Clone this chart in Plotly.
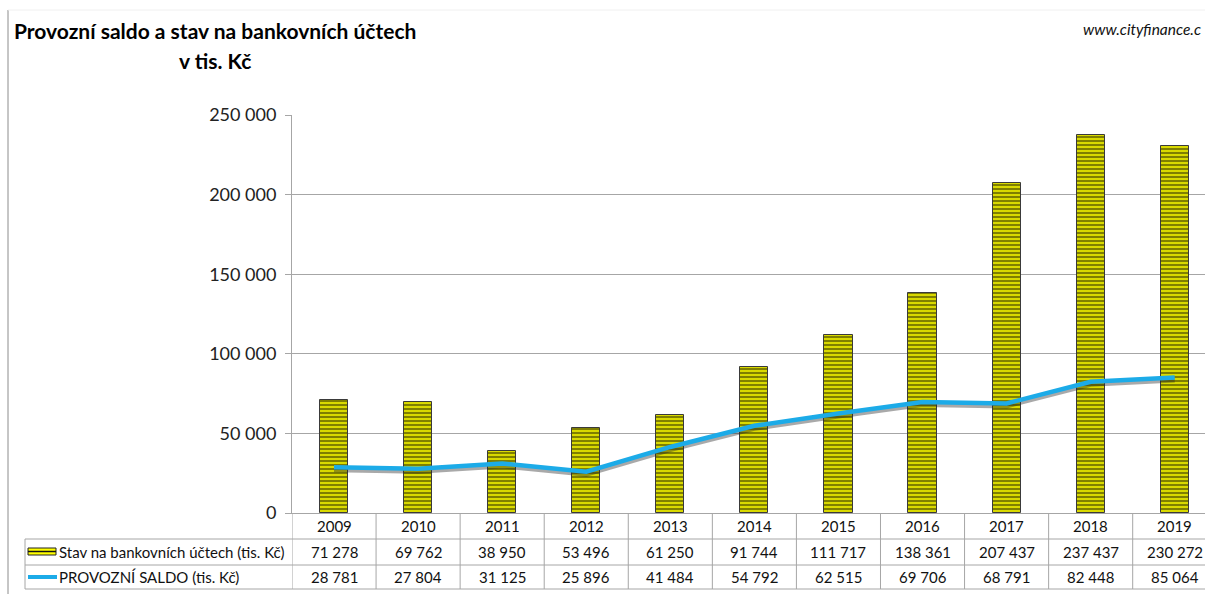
import plotly.graph_objects as go

# Years and the two series (in thousands of CZK)
years = ["2009", "2010", "2011", "2012", "2013", "2014", "2015", "2016", "2017", "2018", "2019"]
bank_balance = [71278, 69762, 38950, 53496, 61250, 91744, 111717, 138361, 207437, 237437, 230272]
operating_balance = [28781, 27804, 31125, 25896, 41484, 54792, 62515, 69706, 68791, 82448, 85064]

bank_label = "Stav na bankovních účtech (tis. Kč)"
saldo_label = "PROVOZNÍ SALDO (tis. Kč)"
y_ticks = [0, 50000, 100000, 150000, 200000, 250000]

FONT = "Lato"
GRID = "#a6a6a6"
W, H = 1205, 594
L, T, B = 292, 115, 81
PLOT_H = H - T - B
PLOT_W = W - L
Y_MAX = 250000
shadow_shift = 3 * Y_MAX / PLOT_H  # about 3 px lower


def py(pixel_y):
    """paper y coordinate for a pixel row of the figure"""
    return (H - B - pixel_y) / PLOT_H


def px(pixel_x):
    """paper x coordinate for a pixel column of the figure"""
    return (pixel_x - L) / PLOT_W


def fmt(v):
    return f"{v:,}".replace(",", " ")


idx = list(range(len(years)))

fig = go.Figure()

fig.add_trace(go.Bar(
    x=idx, y=bank_balance, width=0.335, name=bank_label,
    marker=dict(
        color="#ffff00",
        line=dict(color="#3a3a3a", width=1),
        pattern=dict(shape="-", fgcolor="#000000", bgcolor="#ffff00", size=4, solidity=0.65),
    ),
    showlegend=False,
))

# soft drop shadow under the line
fig.add_trace(go.Scatter(
    x=idx, y=operating_balance, yaxis="y2", mode="lines",
    line=dict(color="rgba(40,40,40,0.4)", width=4),
    showlegend=False, hoverinfo="skip",
))
fig.add_trace(go.Scatter(
    x=idx, y=operating_balance, yaxis="y3", mode="lines", name=saldo_label,
    line=dict(color="#1cabe8", width=4.5),
    showlegend=False,
))

shapes = []
annotations = []
line_style = dict(color=GRID, width=1)
TXT = dict(size=15, color="#111111")

# data table grid
row_lines = [539, 565, 589]
for yy in row_lines:
    shapes.append(dict(type="line", xref="paper", yref="paper",
                       x0=px(25), x1=1.01, y0=py(yy), y1=py(yy), line=line_style))
shapes.append(dict(type="line", xref="paper", yref="paper",
                   x0=px(25), x1=px(25), y0=py(539), y1=py(589), line=line_style))
for i in range(len(years) + 1):
    shapes.append(dict(type="line", xref="x", yref="paper",
                       x0=i - 0.5, x1=i - 0.5, y0=0, y1=py(589), line=line_style))

# table contents
for i, yr in enumerate(years):
    annotations.append(dict(x=i, y=py(526), xref="x", yref="paper", text=yr, yanchor="middle",
                            showarrow=False, font=TXT))
    annotations.append(dict(x=i, y=py(552), xref="x", yref="paper", text=fmt(bank_balance[i]),
                            yanchor="middle", showarrow=False, font=TXT))
    annotations.append(dict(x=i, y=py(577), xref="x", yref="paper", text=fmt(operating_balance[i]),
                            yanchor="middle", showarrow=False, font=TXT))

annotations.append(dict(x=px(57), y=py(552), xref="paper", yref="paper", text=bank_label,
                        xanchor="left", yanchor="middle", showarrow=False, font=TXT))
annotations.append(dict(x=px(57), y=py(577), xref="paper", yref="paper", text=saldo_label,
                        xanchor="left", yanchor="middle", showarrow=False, font=TXT))

# legend keys in the table
shapes.append(dict(type="rect", xref="paper", yref="paper", x0=px(28), x1=px(56),
                   y0=py(548), y1=py(555), fillcolor="#ffff00", line=dict(color="#222222", width=1)))
shapes.append(dict(type="line", xref="paper", yref="paper", x0=px(28), x1=px(56),
                   y0=py(551.5), y1=py(551.5), line=dict(color="#111111", width=1.5)))
shapes.append(dict(type="line", xref="paper", yref="paper", x0=px(28), x1=px(57),
                   y0=py(577), y1=py(577), line=dict(color="#1cabe8", width=4)))

# chart frame edges
shapes.append(dict(type="line", xref="paper", yref="paper", x0=px(8), x1=px(8),
                   y0=py(10), y1=py(600), line=dict(color="#8c8c8c", width=1)))
shapes.append(dict(type="line", xref="paper", yref="paper", x0=px(8), x1=1.01,
                   y0=py(10), y1=py(10), line=dict(color="#f0f0f0", width=1)))

# titles
annotations.append(dict(x=px(12), y=py(31), xref="paper", yref="paper", xanchor="left",
                        yanchor="middle",
                        text="<b>Provozní saldo a stav na bankovních účtech</b>", showarrow=False,
                        font=dict(size=21, color="#000000")))
annotations.append(dict(x=px(215), y=py(60), xref="paper", yref="paper", xanchor="center",
                        yanchor="middle", text="<b>v tis. Kč</b>", showarrow=False,
                        font=dict(size=21, color="#000000")))
annotations.append(dict(x=px(1203), y=py(29), xref="paper", yref="paper", xanchor="right",
                        yanchor="middle", text="<i>www.cityfinance.c</i>", showarrow=False,
                        font=dict(size=15.5, color="#111111")))

fig.update_layout(
    width=W, height=H,
    margin=dict(l=L, r=0, t=T, b=B),
    paper_bgcolor="white", plot_bgcolor="white",
    font=dict(family=FONT, color="#111111"),
    separators=", ",
    bargap=0,
    xaxis=dict(range=[-0.5, 10.36], showticklabels=False, ticks="", showgrid=False,
               zeroline=False, showline=True, linecolor=GRID, linewidth=1, fixedrange=True),
    yaxis=dict(range=[0, Y_MAX], tickvals=y_ticks, tickformat=",", showgrid=True,
               gridcolor=GRID, gridwidth=1, zeroline=False, showline=True, linecolor=GRID,
               ticks="outside", ticklen=6, tickcolor=GRID, ticklabelstandoff=5,
               tickfont=dict(size=18, color="#222222")),
    yaxis2=dict(range=[shadow_shift, Y_MAX + shadow_shift], overlaying="y", visible=False),
    yaxis3=dict(range=[0, Y_MAX], overlaying="y", visible=False),
    shapes=shapes,
    annotations=annotations,
)

fig.write_html("out.html")
